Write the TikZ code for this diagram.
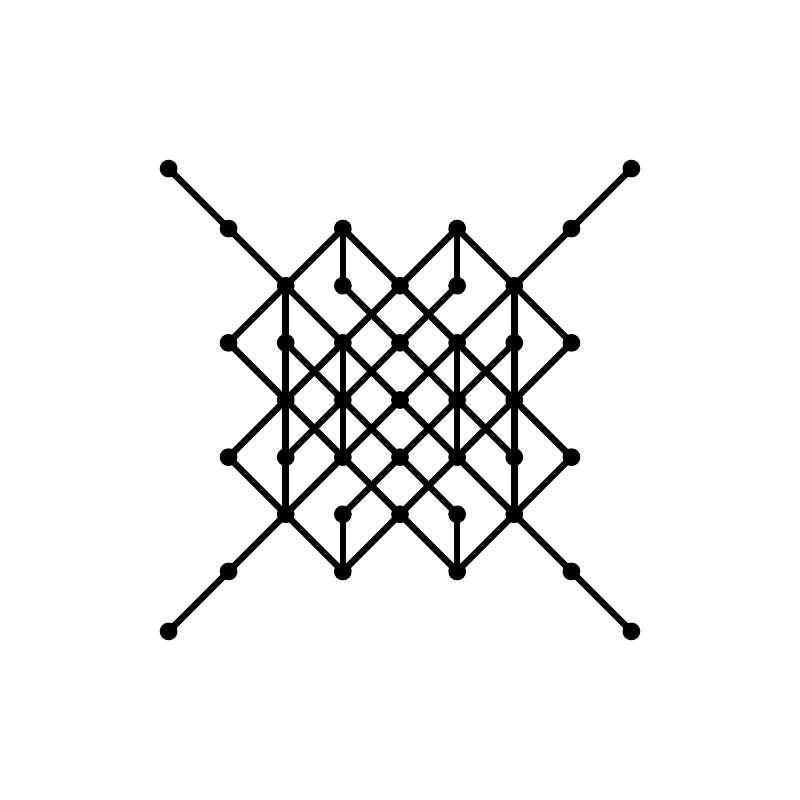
\documentclass[tikz,border=0pt]{standalone}
\usepackage{tikz}

\begin{document}
\begin{tikzpicture}[
    edge/.style={line width=3.2pt}]
  % white square frame, same margins as the drawing
  \useasboundingbox[fill=white] (-7,-7) rectangle (7,7);

  % the points: column letter a..i for x=-4..4, row digit 1..9 for y=-4..4
  \foreach \n/\x/\y in {a9/-4.05/4.05, i9/4.05/4.05,
      b8/-3/3, d8/-1/3, f8/1/3, h8/3/3,
      c7/-2/2, d7/-1/2, e7/0/2, f7/1/2, g7/2/2,
      b6/-3/1, c6/-2/1, d6/-1/1, e6/0/1, f6/1/1, g6/2/1, h6/3/1,
      c5/-2/0, d5/-1/0, e5/0/0, f5/1/0, g5/2/0,
      b4/-3/-1, c4/-2/-1, d4/-1/-1, e4/0/-1, f4/1/-1, g4/2/-1, h4/3/-1,
      c3/-2/-2, d3/-1/-2, e3/0/-2, f3/1/-2, g3/2/-2,
      b2/-3/-3, d2/-1/-3, f2/1/-3, h2/3/-3,
      a1/-4.05/-4.05, i1/4.05/-4.05}
    \coordinate (\n) at (\x,\y);

  % outer lattice, down to the right
  \draw[edge] (a9) -- (b8) -- (c7) -- (d6) -- (e5) -- (f4) -- (g3) -- (h2) -- (i1);
  \draw[edge] (d8) -- (e7) -- (f6) -- (g5) -- (h4);
  \draw[edge] (b6) -- (c5) -- (d4) -- (e3) -- (f2);
  \draw[edge] (f8) -- (g7) -- (h6);
  \draw[edge] (b4) -- (c3) -- (d2);
  % outer lattice, up to the right
  \draw[edge] (a1) -- (b2) -- (c3) -- (d4) -- (e5) -- (f6) -- (g7) -- (h8) -- (i9);
  \draw[edge] (b6) -- (c7) -- (d8);
  \draw[edge] (b4) -- (c5) -- (d6) -- (e7) -- (f8);
  \draw[edge] (d2) -- (e3) -- (f4) -- (g5) -- (h6);
  \draw[edge] (f2) -- (g3) -- (h4);

  % inner lattice
  \draw[edge] (d7) -- (e6) -- (f5) -- (g4);
  \draw[edge] (c6) -- (d5) -- (e4) -- (f3);
  \draw[edge] (c4) -- (d5) -- (e6) -- (f7);
  \draw[edge] (d3) -- (e4) -- (f5) -- (g6);

  % verticals
  \draw[edge] (c7) -- (c3);
  \draw[edge] (g7) -- (g3);
  \draw[edge] (d8) -- (d7);
  \draw[edge] (d6) -- (d4);
  \draw[edge] (d3) -- (d2);
  \draw[edge] (f8) -- (f7);
  \draw[edge] (f6) -- (f4);
  \draw[edge] (f3) -- (f2);

  % dots on top
  \foreach \n in {a9,i9,b8,d8,f8,h8,c7,d7,e7,f7,g7,b6,c6,d6,e6,f6,g6,h6,
      c5,d5,e5,f5,g5,b4,c4,d4,e4,f4,g4,h4,c3,d3,e3,f3,g3,b2,d2,f2,h2,a1,i1}
    \fill (\n) circle (0.155);

\end{tikzpicture}
\end{document}
